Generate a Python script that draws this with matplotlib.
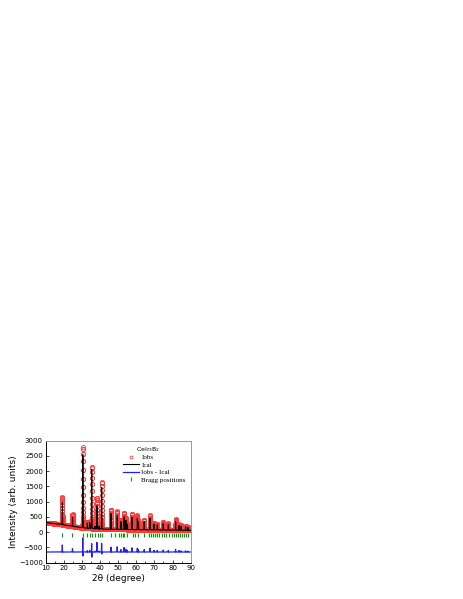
import numpy as np
import matplotlib.pyplot as plt

# background knots (2theta, counts)
bg_x = [10, 14, 18, 20, 25, 30, 35, 40, 50, 60, 70, 80, 90]
bg_y = [315, 290, 260, 240, 195, 145, 115, 100, 90, 82, 75, 68, 60]

# reflections: position, observed peak height, calculated peak height (above background)
peak_pos = [19.2, 24.8, 30.5, 33.0, 34.3, 35.4, 37.2, 38.3, 39.5, 40.9, 46.1, 49.5,
            51.5, 53.3, 54.3, 55.1, 57.6, 60.6, 61.2, 64.4, 67.6, 69.8, 71.6, 74.9,
            77.7, 81.7, 83.6, 84.8, 87.2, 88.5]
peak_obs = [900, 390, 2650, 200, 230, 2030, 100, 1030, 120, 1540, 640, 590,
            320, 540, 370, 220, 520, 470, 320, 330, 480, 230, 210, 260,
            220, 350, 190, 160, 150, 120]
peak_cal = [720, 300, 2400, 170, 190, 1950, 80, 760, 95, 1370, 520, 450,
            260, 420, 300, 180, 410, 370, 260, 270, 380, 190, 170, 210,
            180, 280, 150, 130, 120, 95]

bragg_pos = [19.2, 24.7, 30.6, 33.0, 34.3, 35.4, 37.2, 39.0, 40.0, 41.3, 45.9, 48.2,
             50.3, 51.5, 52.6, 53.4, 54.9, 58.2, 59.4, 60.7, 64.1, 66.8, 68.0, 69.2,
             70.5, 71.3, 72.8, 74.0, 75.2, 76.6, 77.8, 79.5, 80.6, 81.8, 82.9, 84.0,
             85.3, 86.5, 87.6, 88.8]

diff_offset = -650
bragg_level = -100

tt = np.arange(10, 90, 0.01)
bg = np.interp(tt, bg_x, bg_y)


def profile(x, p, fwhm):
    g = np.exp(-4 * np.log(2) * (x - p) ** 2 / fwhm ** 2)
    l = 1 / (1 + 4 * (x - p) ** 2 / fwhm ** 2)
    return 0.6 * g + 0.4 * l


iobs = bg.copy()
ical = bg.copy()
for p, ho, hc in zip(peak_pos, peak_obs, peak_cal):
    iobs += ho * profile(tt, p, 0.12)
    ical += hc * profile(tt, p + 0.01, 0.12)

diff = iobs - ical + diff_offset

fig = plt.figure(figsize=(4.63, 5.99), dpi=100)
ax = fig.add_axes([0.0987, 0.0606, 0.313, 0.2037])

ax.plot(tt, iobs, 'o', mfc='none', mec='#ff3838', ms=3, mew=0.6, label='Iobs')
ax.plot(tt, ical, '-', color='black', lw=0.8, label='Ical')
ax.plot(tt, diff, '-', color='#2020ff', lw=0.9, label='Iobs - Ical')
ax.plot(bragg_pos, [bragg_level] * len(bragg_pos), '|', color='#00a000', ms=3.5,
        mew=0.8, label='Bragg positions')

ax.set_xlim(10, 90)
ax.set_ylim(-1000, 3000)
ax.set_xticks(range(10, 91, 10))
ax.set_xticks(range(15, 90, 10), minor=True)
ax.set_yticks(range(-1000, 3001, 500))
ax.tick_params(direction='in', labelsize=5, length=2.5, width=0.5, pad=2)
ax.tick_params(which='minor', direction='in', length=1.5, width=0.5)
for s in ['top', 'right']:
    ax.spines[s].set_color('#999999')
for s in ax.spines.values():
    s.set_linewidth(0.7)

ax.set_xlabel('2θ (degree)', fontsize=6.5, labelpad=2)
ax.set_ylabel('Intensity (arb. units)', fontsize=6.5, labelpad=1)

ax.legend(loc='upper right', frameon=False,
          prop={'family': 'Liberation Serif', 'size': 5},
          handlelength=2.3, labelspacing=0.25, handletextpad=0.4,
          borderaxespad=0.3, bbox_to_anchor=(1.0, 0.93), markerscale=0.7)
ax.text(0.62, 0.925, 'CeIr$_3$B$_2$', transform=ax.transAxes, fontsize=4.5,
        va='center', ha='left')

plt.savefig('out.png', dpi=100)
